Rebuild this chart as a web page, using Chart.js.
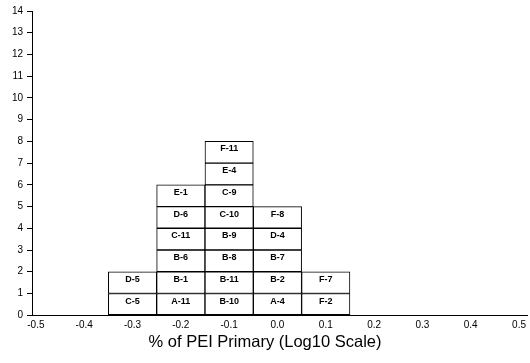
<!DOCTYPE html>
<html>
<head>
<meta charset="utf-8">
<script src="https://cdn.jsdelivr.net/npm/chart.js@4/dist/chart.umd.min.js"></script>
<style>
  html, body { margin: 0; padding: 0; background: #fff; }
  #wrap { width: 530px; height: 363px; }
</style>
</head>
<body>
<div id="wrap"><canvas id="chart"></canvas></div>
<script>
// bin centres on the log10 axis
const binCenters = [-0.3, -0.2, -0.1, 0.0, 0.1];
// sample ids stacked in each bin, bottom to top
const binSamples = [
  ['C-5', 'D-5'],
  ['A-11', 'B-1', 'B-6', 'C-11', 'D-6', 'E-1'],
  ['B-10', 'B-11', 'B-8', 'B-9', 'C-10', 'C-9', 'E-4', 'F-11'],
  ['A-4', 'B-2', 'B-7', 'D-4', 'F-8'],
  ['F-2', 'F-7']
];
const xTicks = [-0.5, -0.4, -0.3, -0.2, -0.1, 0.0, 0.1, 0.2, 0.3, 0.4, 0.5];
const yTicks = [0, 1, 2, 3, 4, 5, 6, 7, 8, 9, 10, 11, 12, 13, 14];
const xTitle = '% of PEI Primary (Log10 Scale)';

const FONT = '"Liberation Sans", Arial, sans-serif';

// one dataset per stack level so every cell is its own box
const maxLevel = Math.max(...binSamples.map(s => s.length));
const datasets = [];
for (let lvl = 0; lvl < maxLevel; lvl++) {
  const data = [];
  binCenters.forEach((c, i) => {
    if (binSamples[i][lvl]) data.push({ x: c, y: [lvl, lvl + 1], name: binSamples[i][lvl] });
  });
  datasets.push({
    data: data,
    backgroundColor: '#ffffff',
    borderColor: '#000000',
    borderWidth: 1,
    borderSkipped: false,
    grouped: false,
    barPercentage: 1,
    categoryPercentage: 1
  });
}

const cellLabels = {
  id: 'cellLabels',
  afterDatasetsDraw(chart) {
    const ctx = chart.ctx;
    const xs = chart.scales.x, ys = chart.scales.y;
    ctx.save();
    ctx.font = 'bold 9px ' + FONT;
    ctx.fillStyle = '#000';
    ctx.textAlign = 'center';
    ctx.textBaseline = 'middle';
    chart.data.datasets.forEach(ds => {
      ds.data.forEach(p => {
        ctx.fillText(p.name, xs.getPixelForValue(p.x), ys.getPixelForValue(p.y[1] - 0.35));
      });
    });
    ctx.restore();
  }
};

new Chart(document.getElementById('chart'), {
  type: 'bar',
  data: { datasets: datasets },
  plugins: [cellLabels],
  options: {
    responsive: true,
    maintainAspectRatio: false,
    animation: false,
    layout: { padding: { top: 11, right: 0, left: 0, bottom: 0 } },
    plugins: {
      legend: { display: false },
      tooltip: { enabled: false },
      title: {
        display: true,
        position: 'bottom',
        text: xTitle,
        color: '#000',
        font: { family: FONT, size: 16.5, weight: 'normal' },
        padding: { top: 3, bottom: 11 }
      }
    },
    scales: {
      x: {
        type: 'linear',
        min: -0.508,
        max: 0.5165,
        offset: false,
        afterBuildTicks: s => { s.ticks = xTicks.map(v => ({ value: v })); },
        afterFit: s => { s.height = 14; },
        grid: { display: false, offset: false, drawTicks: false },
        border: { display: true, color: '#000', width: 1 },
        ticks: {
          autoSkip: false,
          maxRotation: 0,
          padding: 4,
          color: '#000',
          font: { family: FONT, size: 10 },
          callback: v => v.toFixed(1)
        }
      },
      y: {
        min: 0,
        max: 14,
        afterBuildTicks: s => { s.ticks = yTicks.map(v => ({ value: v })); },
        afterFit: s => { s.width = 32; },
        grid: { drawOnChartArea: false, drawTicks: true, tickLength: 5, color: '#000' },
        border: { display: true, color: '#000', width: 1 },
        ticks: {
          padding: 4,
          color: '#000',
          font: { family: FONT, size: 10 }
        }
      }
    }
  }
});
</script>
</body>
</html>
